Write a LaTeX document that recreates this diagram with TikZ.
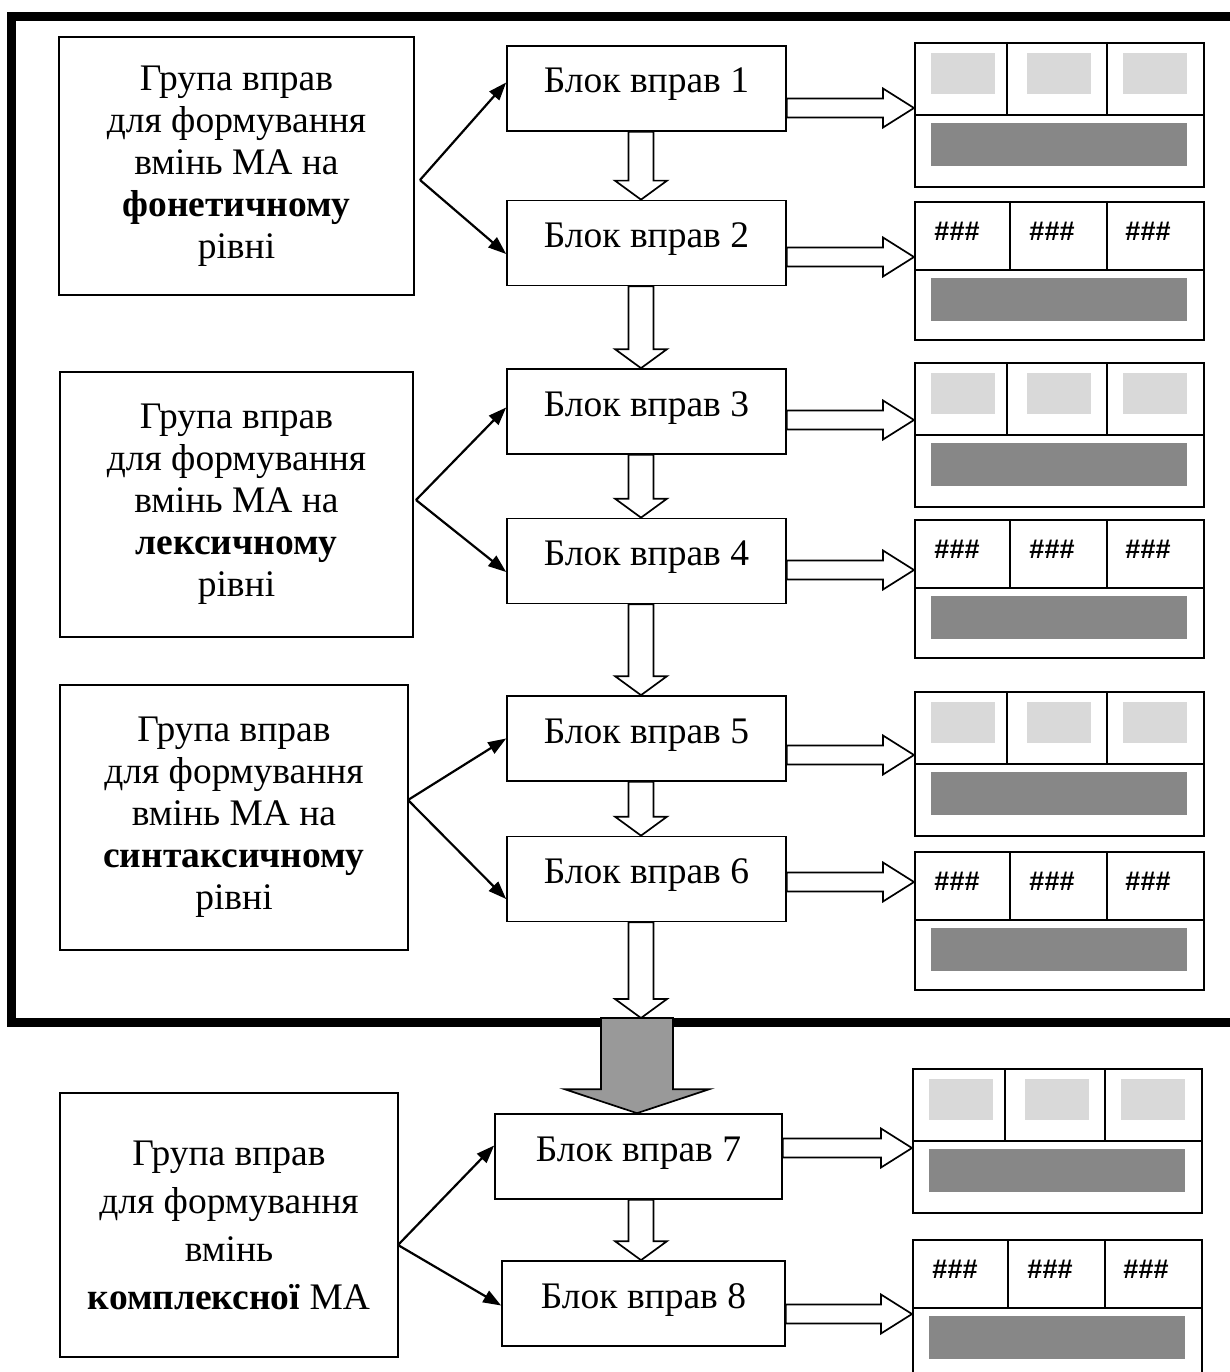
\documentclass[tikz,border=0pt]{standalone}
\usepackage{fontspec}
\setmainfont{Liberation Serif}
\newfontfamily\hashfont{Liberation Sans}
\usetikzlibrary{arrows.meta,calc}
\definecolor{boxgray}{HTML}{D9D9D9}
\definecolor{bargray}{HTML}{878787}
\definecolor{arrgray}{HTML}{999999}
\newcommand\harr[3]{\draw[hollow] let \p1=(#1.east), \p2=(#2.west), \p3=(0,#3) in
  (\x1,\y3+9.5pt) -- (\x2-31pt,\y3+9.5pt) -- (\x2-31pt,\y3+19.5pt) -- (\x2,\y3)
  -- (\x2-31pt,\y3-19.5pt) -- (\x2-31pt,\y3-9.5pt) -- (\x1,\y3-9.5pt) -- cycle;}
\newcommand\varr[2]{\draw[hollow] let \p1=(#1), \p2=(#2), \p3=(col) in
  (\x3-12.5pt,\y1) -- (\x3-12.5pt,\y2+19pt) -- (\x3-26pt,\y2+19pt) -- (\x3,\y2)
  -- (\x3+26pt,\y2+19pt) -- (\x3+12.5pt,\y2+19pt) -- (\x3+12.5pt,\y1) -- cycle;}
\begin{document}
\begin{tikzpicture}[x=1pt,y=-1pt,line width=1.7pt,
    font=\fontsize{37.5}{42}\selectfont,
    grp/.style={draw,align=center,inner sep=0pt},
    blk/.style={draw,inner sep=0pt,minimum width=279pt,text height=47pt,text depth=38pt},
    panel/.style={draw,anchor=north west,minimum width=289pt,inner sep=0pt},
    hollow/.style={draw,fill=white},
    fan/.style={line width=2.2pt,-{Triangle[length=18pt,width=13pt]}},
    cell/.style={fill=boxgray},
    bar/.style={fill=bargray},
    hash/.style={font=\hashfont\bfseries\fontsize{27}{27}\selectfont}]
  \useasboundingbox (0,0) rectangle (1230,1372);
  \draw[line width=9pt] (11.5,16.5) rectangle (1260,1022.5);

  \node[grp,minimum width=355pt,minimum height=258pt] (g1) at (236.5,166)
    {Група вправ\\для формування\\вмінь МА на\\\textbf{фонетичному}\\рівні};
  \node[grp,minimum width=353pt,minimum height=265pt] (g2) at (236.5,504.5)
    {Група вправ\\для формування\\вмінь МА на\\\textbf{лексичному}\\рівні};
  \node[grp,minimum width=348pt,minimum height=265pt] (g3) at (234,817.5)
    {Група вправ\\для формування\\вмінь МА на\\\textbf{синтаксичному}\\рівні};
  \node[grp,minimum width=338pt,minimum height=264pt,font=\fontsize{37.5}{48}\selectfont]
    (g4) at (229,1225)
    {Група вправ\\для формування\\вмінь\\\textbf{комплексної} МА};

  \node[blk] (b1) at (646.5,88.5) {Блок вправ 1};
  \node[blk] (b2) at (646.5,243) {Блок вправ 2};
  \node[blk] (b3) at (646.5,411.5) {Блок вправ 3};
  \node[blk] (b4) at (646.5,561) {Блок вправ 4};
  \node[blk] (b5) at (646.5,738.5) {Блок вправ 5};
  \node[blk] (b6) at (646.5,879) {Блок вправ 6};
  \node[blk,minimum width=287pt] (b7) at (638.5,1156.5) {Блок вправ 7};
  \node[blk,minimum width=283pt] (b8) at (643.5,1303.5) {Блок вправ 8};

  \foreach \n/\x/\y in {1/914/42,3/914/362,5/914/691,7/912/1068}{
    \node[panel,minimum height=144pt] (p\n) at (\x,\y) {};
    \draw (\x,\y+73) -- ++(289,0) (\x+93,\y) -- ++(0,73) (\x+193,\y) -- ++(0,73);
    \foreach \c in {17,113,209} \fill[cell] (\x+\c,\y+11) rectangle ++(64,41);
    \fill[bar] (\x+17,\y+81) rectangle ++(256,43);
  }
  \foreach \n/\x/\y in {2/914/201,4/914/519,6/914/851,8/912/1239}{
    \node[panel,minimum height=138pt] (p\n) at (\x,\y) {};
    \draw (\x,\y+69) -- ++(289,0) (\x+96,\y) -- ++(0,69) (\x+193,\y) -- ++(0,69);
    \foreach \c in {43,138,234} \node[hash] (h\n-\c) at (\x+\c,\y+30) {\#\#\#};
    \fill[bar] (\x+17,\y+77) rectangle ++(256,43);
  }

  \coordinate (a1) at (420,180);
  \coordinate (a2) at (416,500);
  \coordinate (a3) at (408,800);
  \coordinate (a4) at (398,1245);
  \draw[fan] (a1) -- ([yshift=6pt]b1.west);
  \draw[fan] (a1) -- ([yshift=-11pt]b2.west);
  \draw[fan] (a2) -- ([yshift=4pt]b3.west);
  \draw[fan] (a2) -- ([yshift=-11pt]b4.west);
  \draw[fan] (a3) -- (b5.west);
  \draw[fan] (a3) -- ([yshift=-20pt]b6.west);
  \draw[fan] (a4) -- ([yshift=11pt]b7.west);
  \draw[fan] (a4) -- ([yshift=-2pt]b8.west);

  \harr{b1}{p1}{108}
  \harr{b2}{p2}{257}
  \harr{b3}{p3}{420}
  \harr{b4}{p4}{570}
  \harr{b5}{p5}{755}
  \harr{b6}{p6}{882}
  \harr{b7}{p7}{1148}
  \harr{b8}{p8}{1314}

  \coordinate (col) at (641,0);
  \coordinate (gtop) at (637,1018);
  \varr{b1.south}{b2.north}
  \varr{b2.south}{b3.north}
  \varr{b3.south}{b4.north}
  \varr{b4.south}{b5.north}
  \varr{b5.south}{b6.north}
  \varr{b6.south}{gtop}
  \varr{b7.south}{b8.north}
  \draw[fill=arrgray] let \p1=(gtop), \p2=(b7.north) in
    (\x1-36pt,\y1) -- (\x1-36pt,\y2+24pt) -- (\x1-72.5pt,\y2+24pt) -- (\x1,\y2)
    -- (\x1+72.5pt,\y2+24pt) -- (\x1+36pt,\y2+24pt) -- (\x1+36pt,\y1) -- cycle;
\end{tikzpicture}
\end{document}
